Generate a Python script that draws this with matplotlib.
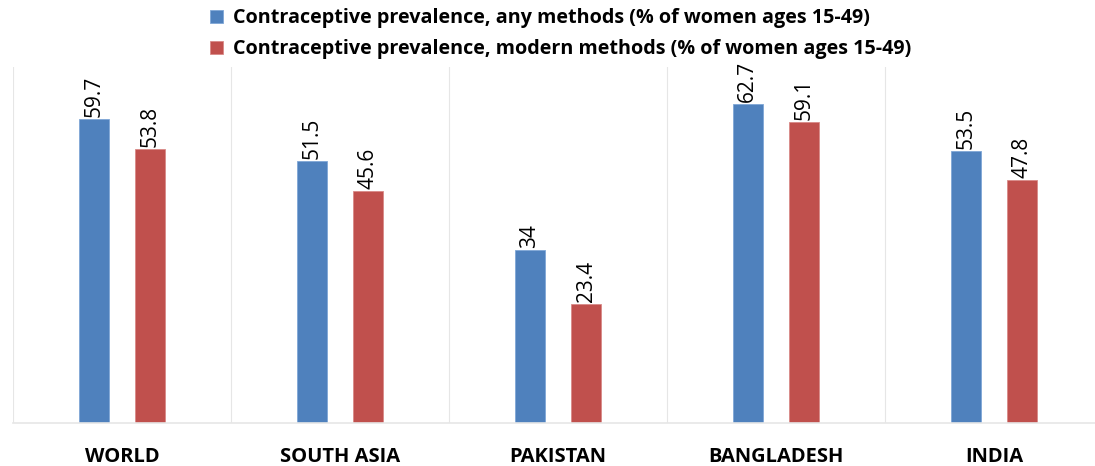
import matplotlib.pyplot as plt
import numpy as np

regions = ['WORLD', 'SOUTH ASIA', 'PAKISTAN', 'BANGLADESH', 'INDIA']
any_methods = [59.7, 51.5, 34, 62.7, 53.5]
modern_methods = [53.8, 45.6, 23.4, 59.1, 47.8]
series_names = ['Contraceptive prevalence, any methods (% of women ages 15-49)',
                'Contraceptive prevalence, modern methods (% of women ages 15-49)']

blue = '#4F81BD'
red = '#C0504D'

plt.rcParams['font.family'] = ['Open Sans', 'DejaVu Sans']

fig = plt.figure(figsize=(10.95, 4.66), dpi=100)
ax = fig.add_axes([13 / 1095, 43 / 466, 1090 / 1095, 356 / 466])

x = np.arange(len(regions))
width = 0.137
offset = 0.13

b1 = ax.bar(x - offset, any_methods, width, color=blue, edgecolor='#7fa6d6', linewidth=0.6)
b2 = ax.bar(x + offset, modern_methods, width, color=red, edgecolor='#d98a88', linewidth=0.6)

# value labels, rotated, just above each bar
for bars, vals in [(b1, any_methods), (b2, modern_methods)]:
    for rect, v in zip(bars, vals):
        ax.annotate(f'{v:g}', (rect.get_x() + rect.get_width() / 2, v),
                    textcoords='offset points', xytext=(0, 1.5),
                    rotation=90, ha='center', va='bottom', fontsize=15,
                    fontweight='medium')

ax.set_xlim(-0.5, len(regions) - 0.5)
ax.set_ylim(0, 70)

# light separators between categories
for sep in np.arange(len(regions) + 1) - 0.5:
    ax.axvline(sep, color='#e6e6e6', linewidth=0.8, zorder=0)

for side in ['top', 'right', 'left']:
    ax.spines[side].set_visible(False)
ax.spines['bottom'].set_color('#e6e6e6')
ax.spines['bottom'].set_linewidth(1.2)

ax.set_yticks([])
ax.set_xticks(x)
ax.set_xticklabels(regions, fontsize=14.5, fontweight='bold')
ax.tick_params(axis='x', length=0, pad=17)

fig.legend([b1, b2], series_names, loc='upper center', bbox_to_anchor=(0.512, 1.02),
           ncol=1, frameon=False, prop={'weight': 'bold', 'size': 14.2},
           handlelength=0.65, handleheight=0.65, handletextpad=0.5, labelspacing=0.55)

fig.savefig('out.png', dpi=100)
